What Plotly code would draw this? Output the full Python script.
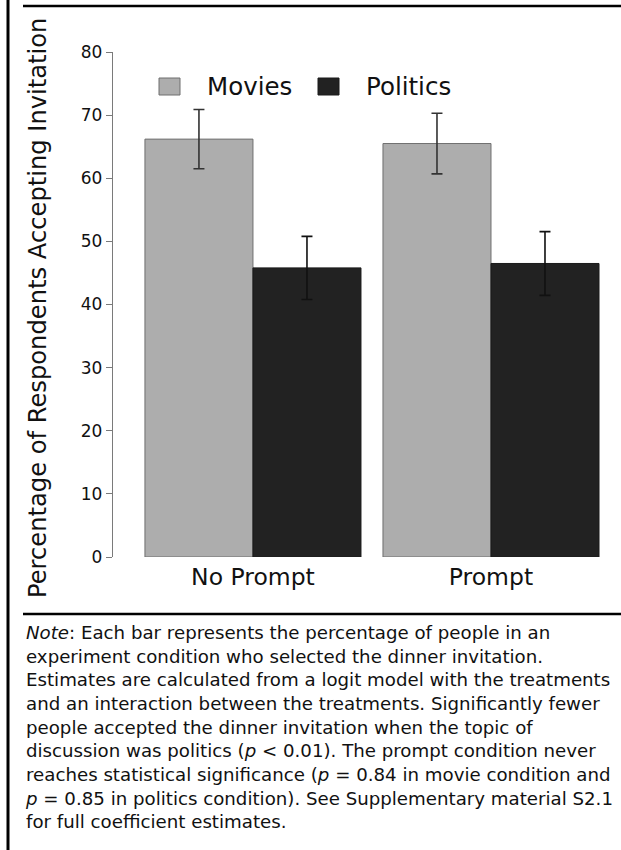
import plotly.graph_objects as go

# Data
conditions = ["No Prompt", "Prompt"]
series_names = ["Movies", "Politics"]
movies_pct = [66.2, 65.5]
movies_err = [4.7, 4.8]
politics_pct = [45.8, 46.5]
politics_err = [5.0, 5.05]
y_ticks = [0, 10, 20, 30, 40, 50, 60, 70, 80]

W, H = 621, 850
ML, MR, MT, MB = 113, 11, 52, 293
PW, PH = W - ML - MR, H - MT - MB
FONT = "DejaVu Sans, Liberation Sans, Arial, sans-serif"

def px(x):
    return (x - ML) / PW

def py(y):
    return (MT + PH - y) / PH

fill_colors = ["#adadad", "#222222"]
line_colors = ["#6f6f6f", "#1a1a1a"]
err_colors = ["#333333", "#111111"]

fig = go.Figure()
for name, vals, errs, fc, lc, ec in zip(
    series_names, [movies_pct, politics_pct], [movies_err, politics_err],
    fill_colors, line_colors, err_colors):
    fig.add_trace(go.Bar(
        x=conditions, y=vals, name=name,
        marker=dict(color=fc, line=dict(color=lc, width=1)),
        error_y=dict(type="data", array=errs, visible=True,
                     color=ec, thickness=1.6, width=5.5),
        showlegend=False,
    ))

fig.update_layout(
    width=W, height=H,
    margin=dict(l=ML, r=MR, t=MT, b=MB, pad=0),
    paper_bgcolor="white", plot_bgcolor="white",
    barmode="group", bargap=22 / 238, bargroupgap=0,
    font=dict(family=FONT, color="#111111"),
    xaxis=dict(range=[-0.588, 1.5], showline=False, showgrid=False,
               zeroline=False, ticks="", tickfont=dict(size=23.5, color="#111111"),
               ticklabelstandoff=3),
    yaxis=dict(range=[0, 80], tickvals=y_ticks, tickangle=0,
               showgrid=False, zeroline=False,
               showline=True, linecolor="#7a7a7a", linewidth=1.3,
               ticks="outside", ticklen=6, tickwidth=1.3, tickcolor="#7a7a7a",
               tickfont=dict(size=17, color="#111111")),
)

shapes = []
# page frame: left rule, top rule, and rule above the note
shapes.append(dict(type="line", xref="paper", yref="paper",
                   x0=px(8), x1=px(8), y0=py(0), y1=py(H),
                   line=dict(color="black", width=3)))
shapes.append(dict(type="line", xref="paper", yref="paper",
                   x0=px(23), x1=px(W), y0=py(6), y1=py(6),
                   line=dict(color="black", width=2.5)))
shapes.append(dict(type="line", xref="paper", yref="paper",
                   x0=px(23), x1=px(W), y0=py(614), y1=py(614),
                   line=dict(color="black", width=2.7)))

# legend keys
legend_x = [159, 318]
for lx, name, fc, lc in zip(legend_x, series_names, fill_colors, line_colors):
    shapes.append(dict(type="rect", xref="paper", yref="paper",
                       x0=px(lx), x1=px(lx + 21), y0=py(78), y1=py(95),
                       fillcolor=fc, line=dict(color=lc, width=1)))
fig.update_layout(shapes=shapes)

annotations = []
for lx, name in zip(legend_x, series_names):
    annotations.append(dict(x=px(lx + 46), y=py(87), xref="paper", yref="paper",
                            text=name, showarrow=False, xanchor="left",
                            yanchor="middle", font=dict(size=24.5, color="#111111")))

annotations.append(dict(x=px(38), y=py(308), xref="paper", yref="paper",
                        text="Percentage of Respondents Accepting Invitation",
                        textangle=-90, showarrow=False, xanchor="center",
                        yanchor="middle", font=dict(size=24.2, color="#111111")))

note_lines = [
    "<i>Note</i>: Each bar represents the percentage of people in an",
    "experiment condition who selected the dinner invitation.",
    "Estimates are calculated from a logit model with the treatments",
    "and an interaction between the treatments. Significantly fewer",
    "people accepted the dinner invitation when the topic of",
    "discussion was politics (<i>p</i> &lt; 0.01). The prompt condition never",
    "reaches statistical significance (<i>p</i> = 0.84 in movie condition and",
    "<i>p</i> = 0.85 in politics condition). See Supplementary material S2.1",
    "for full coefficient estimates.",
]
annotations.append(dict(x=px(23), y=py(620), xref="paper", yref="paper",
                        text="<br>".join(note_lines), showarrow=False,
                        xanchor="left", yanchor="top", align="left",
                        font=dict(size=18.2, color="#111111")))
fig.update_layout(annotations=annotations)

fig.write_html("out.html")
